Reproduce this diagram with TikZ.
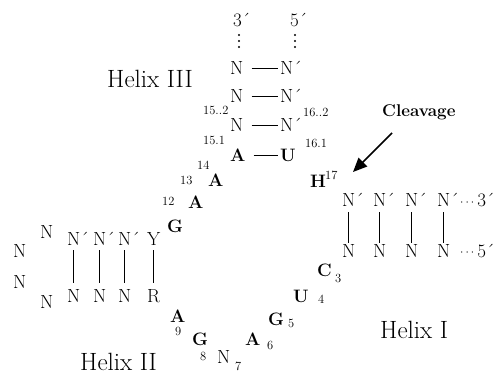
\documentclass[tikz,border=0pt]{standalone}
\usetikzlibrary{arrows.meta}
% small centred dots before a strand end
\newcommand\strandend[1]{\raisebox{1.5pt}{\fontsize{12}{12}\selectfont$\cdots$}\,#1}
\begin{document}
\begin{tikzpicture}[x=1pt,y=-1pt,
  nt/.style={inner sep=0pt, anchor=base west, font=\fontsize{19}{21}\selectfont},
  bb/.style={inner sep=0pt, anchor=base west, font=\fontsize{18}{20}\selectfont\bfseries},
  num/.style={inner sep=0pt, anchor=base west, font=\fontsize{12.5}{14}\selectfont},
  helix/.style={inner sep=0pt, anchor=base west, font=\fontsize{25}{28}\selectfont},
  hpair/.style={line width=1.3pt, shorten <=8pt, shorten >=2pt},
  vpair/.style={line width=1.3pt, shorten <=1pt, shorten >=5pt}]
\useasboundingbox (0,0) rectangle (495,374);

% ---------------- helix III ----------------
\node[nt] (t3) at (233,27) {3´};
\node[nt] (t5) at (290,27) {5´};
% dotted continuation of both strands
\coordinate (d3) at (239,41);
\coordinate (d5) at (295,41);
\foreach \c in {d3,d5}
  \foreach \k in {-6,0,6}
    \fill ([yshift=\k pt]\c) circle (1.1pt);
\node[nt] (a1) at (230,75) {N};  \node[nt] (b1) at (280,75) {N´};
\node[nt] (a2) at (230,103) {N}; \node[nt] (b2) at (280,103) {N´};
\node[nt] (a3) at (230,132) {N}; \node[nt] (b3) at (280,132) {N´};
\node[bb] (a4) at (230,162) {A}; \node[bb] (b4) at (280,162) {U};
\foreach \i in {1,...,4}
  \draw[hpair] (a\i.east) -- (a\i.east -| b\i.west);
\node[num] (n152) at (203,115) {15..2};
\node[num] (n162) at (303,117) {16..2};
\node[num] (n151) at (203,145) {15.1};
\node[num] (n161) at (305,148) {16.1};
\node[helix] (h3) at (107,88) {Helix III};

% ---------------- joining strand 12--14 ----------------
\node[num] (n14) at (197,170) {14};
\node[num] (n13) at (180,185) {13};
\node[bb] (r13) at (208,187) {A};
\node[num] (n12) at (162,205) {12};
\node[bb] (r12) at (188,208) {A};
\node[bb] (r11) at (167,232) {G};

% ---------------- cleavage site and helix I ----------------
\node[bb] (r17) at (310,188) {H};
\node[num] (n17) at (325,180) {17};
\node[bb, font=\fontsize{17}{20}\selectfont\bfseries] (cut) at (382,117) {Cleavage};
\coordinate (cutFrom) at (392,133);
\coordinate (cutTo) at (353,172);
\draw[line width=1.7pt, -{Triangle[length=14pt,width=12pt]}] (cutFrom) -- (cutTo);

\foreach \x [count=\i] in {342,373,405,437} {
  \node[nt] (p\i) at (\x,207) {N´};
  \node[nt] (q\i) at (\x,257) {N};
  \draw[vpair] (q\i.north) -- (q\i.north |- p\i.south);
}
\node[nt] (e3) at (460,207) {\strandend{3´}};
\node[nt] (e5) at (460,257) {\strandend{5´}};
\node[helix] (h1) at (380,338) {Helix I};

% ---------------- conserved core 3--9 ----------------
\node[bb] (r3) at (317,276) {C};  \node[num] (n3) at (335,282) {3};
\node[bb] (r4) at (293,302) {U};  \node[num] (n4) at (318,303) {4};
\node[bb] (r5) at (268,325) {G};  \node[num] (n5) at (288,327) {5};
\node[bb] (r6) at (245,345) {A};  \node[num] (n6) at (267,349) {6};
\node[nt] (r7) at (217,363) {N};  \node[num] (n7) at (235,370) {7};
\node[bb] (r8) at (192,345) {G};  \node[num] (n8) at (200,360) {8};
\node[bb] (r9) at (170,322) {A};  \node[num] (n9) at (175,335) {9};

% ---------------- helix II ----------------
\foreach \x/\t/\b [count=\i] in {67/N´/N, 93/N´/N, 118/N´/N, 147/Y/R} {
  \node[nt] (u\i) at (\x,245) {\t};
  \node[nt] (w\i) at (\x,302) {\b};
  \draw[line width=1.3pt, shorten <=6pt, shorten >=5pt] (w\i.north) -- (w\i.north |- u\i.south);
}
\node[nt] (l1) at (40,238) {N};
\node[nt] (l2) at (13,257) {N};
\node[nt] (l3) at (13,288) {N};
\node[nt] (l4) at (40,308) {N};
\node[helix] (h2) at (80,370) {Helix II};
\end{tikzpicture}
\end{document}
